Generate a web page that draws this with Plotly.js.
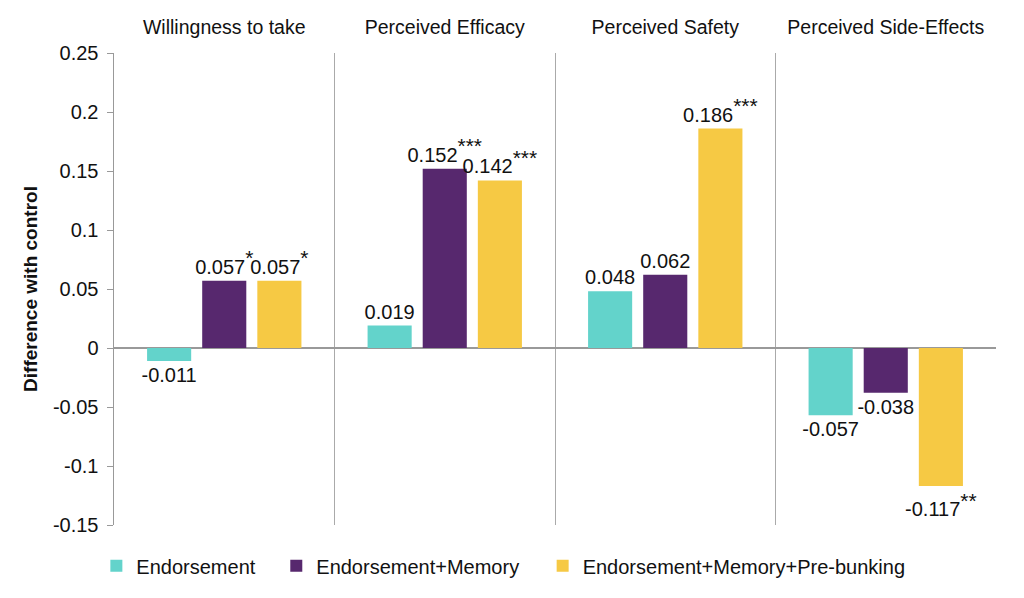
<!DOCTYPE html>
<html>
<head>
<meta charset="utf-8">
<script src="https://cdn.plot.ly/plotly-3.0.1.min.js"></script>
<style>html,body{margin:0;padding:0;background:#fff;}#chart{width:1024px;height:598px;}</style>
</head>
<body>
<div id="chart"></div>
<script>
const categories = ["Willingness to take", "Perceived Efficacy", "Perceived Safety", "Perceived Side-Effects"];
const seriesNames = ["Endorsement", "Endorsement+Memory", "Endorsement+Memory+Pre-bunking"];
const endorsement = [-0.011, 0.019, 0.048, -0.057];
const endorsementMemory = [0.057, 0.152, 0.062, -0.038];
const endorsementMemoryPrebunking = [0.057, 0.142, 0.186, -0.117];
const starsEndorsement = ["", "", "", ""];
const starsMemory = ["*", "***", "", ""];
const starsPrebunking = ["*", "***", "***", "**"];
const yTickVals = [0.25, 0.2, 0.15, 0.1, 0.05, 0, -0.05, -0.1, -0.15];
const yTickText = ["0.25", "0.2", "0.15", "0.1", "0.05", "0", "-0.05", "-0.1", "-0.15"];
const colors = ["#63D3CB", "#57286E", "#F6C944"];

const FONT = "Liberation Sans, Arial, Helvetica, sans-serif";

function labels(vals, stars) {
  return vals.map((v, i) => String(v) + (stars[i] ? "<sup><span style=\"font-size:21px\">" + stars[i] + "</span></sup>" : ""));
}

const series = [endorsement, endorsementMemory, endorsementMemoryPrebunking];
const stars = [starsEndorsement, starsMemory, starsPrebunking];
const legendIds = ["legend", "legend2", "legend3"];

const traces = series.map((vals, k) => ({
  type: "bar",
  name: seriesNames[k],
  legend: legendIds[k],
  x: categories,
  y: vals,
  text: labels(vals, stars[k]),
  textposition: "outside",
  constraintext: "none",
  cliponaxis: false,
  textfont: {family: FONT, size: 20, color: "#111"},
  marker: {color: colors[k]},
  hoverinfo: "skip"
}));

function legendAt(x) {
  return {orientation: "h", x: x, xanchor: "left", y: -0.045, yanchor: "top",
          font: {size: 20, color: "#111"}, itemwidth: 30, bgcolor: "rgba(0,0,0,0)"};
}

const layout = {
  width: 1024, height: 598,
  margin: {l: 114, r: 28, t: 53, b: 73},
  paper_bgcolor: "#fff", plot_bgcolor: "#fff",
  font: {family: FONT, color: "#111"},
  barmode: "group",
  bargap: 0.25,
  bargroupgap: 0.2,
  showlegend: true,
  legend: legendAt(-0.02),
  legend2: legendAt(0.184),
  legend3: legendAt(0.486),
  xaxis: {
    side: "top", type: "category",
    tickson: "boundaries", showgrid: true, gridcolor: "#aaa", gridwidth: 1,
    ticks: "",
    ticklabelstandoff: 14,
    tickfont: {size: 19.5, color: "#111"},
    showline: false, zeroline: false,
    range: [-0.5, 3.5]
  },
  yaxis: {
    range: [-0.15, 0.25],
    tickvals: yTickVals, ticktext: yTickText,
    tickfont: {size: 20, color: "#111"},
    ticks: "outside", ticklen: 6, tickcolor: "#999",
    ticklabelstandoff: 4,
    showgrid: false,
    showline: true, linecolor: "#999", linewidth: 1.5,
    zeroline: true, zerolinecolor: "#999", zerolinewidth: 1.5,
    title: {text: "<b>Difference with control</b>", font: {size: 19, color: "#111"}, standoff: 10}
  }
};

Plotly.newPlot("chart", traces, layout, {displayModeBar: false, staticPlot: true});
</script>
</body>
</html>
